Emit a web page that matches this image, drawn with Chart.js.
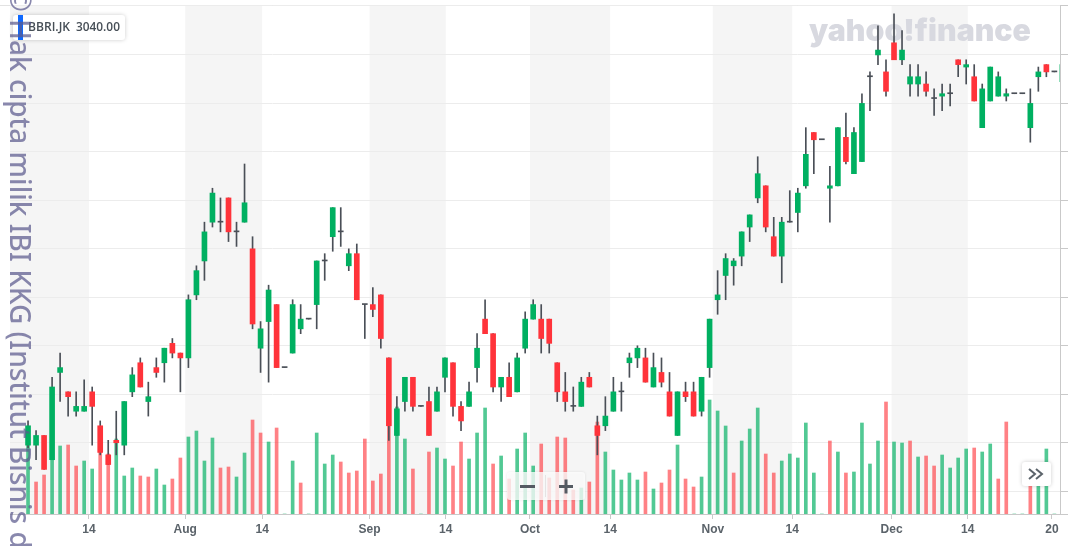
<!DOCTYPE html>
<html>
<head>
<meta charset="utf-8">
<script src="https://cdn.jsdelivr.net/npm/chart.js@4.4.1/dist/chart.umd.min.js"></script>
<style>
  html, body { margin: 0; padding: 0; background: #fff; }
</style>
</head>
<body>
<canvas id="chart" width="1068" height="546"></canvas>
<script>
// daily candles, left to right (one entry per trading day)
const open = [2995, 2995, 3015, 2965, 3145, 3105, 3065, 3065, 3105, 3035, 2975, 3005, 2995, 3105, 3165, 3085, 3155, 3165, 3205, 3185,
  3175, 3305, 3375, 3455, 3455, 3505, 3435, 3455, 3400, 3195, 3250, 3285, 3155, 3185, 3235, 3255, 3285, 3375, 3425, 3435,
  3365, 3390, 3285, 3285, 3305, 3175, 3015, 3085, 3135, 3075, 3085, 3065, 3135, 3165, 3075, 3075, 3155, 3255, 3225, 3115,
  3135, 3105, 3195, 3255, 3255, 3255, 3165, 3105, 3075, 3075, 3135, 3035, 3035, 3065, 3105, 3165, 3175, 3175, 3115, 3145,
  3105, 3015, 3105, 3105, 3065, 3155, 3295, 3345, 3365, 3385, 3445, 3505, 3530, 3425, 3385, 3455, 3475, 3530, 3640, 3625,
  3525, 3530, 3630, 3555, 3580, 3755, 3800, 3765, 3825, 3790, 3740, 3740, 3740, 3710, 3715, 3720, 3790, 3775, 3755, 3650,
  3705, 3715, 3715, 3720, 3720, 3650, 3755, 3780, 3765, 3745];
const high = [3045, 3025, 3015, 3135, 3185, 3105, 3105, 3130, 3115, 3045, 3005, 3065, 3085, 3155, 3175, 3125, 3175, 3195, 3215, 3185,
  3305, 3365, 3455, 3525, 3505, 3505, 3455, 3575, 3425, 3250, 3325, 3285, 3155, 3295, 3285, 3255, 3375, 3390, 3485, 3485,
  3400, 3410, 3285, 3320, 3305, 3175, 3095, 3135, 3135, 3075, 3115, 3115, 3175, 3165, 3085, 3125, 3225, 3295, 3225, 3135,
  3165, 3185, 3270, 3295, 3285, 3255, 3165, 3145, 3115, 3135, 3145, 3055, 3095, 3135, 3125, 3185, 3200, 3195, 3185, 3175,
  3145, 3105, 3125, 3125, 3135, 3255, 3355, 3390, 3380, 3435, 3470, 3590, 3530, 3465, 3465, 3520, 3525, 3650, 3640, 3625,
  3570, 3650, 3680, 3650, 3720, 3765, 3860, 3790, 3885, 3850, 3780, 3780, 3765, 3730, 3740, 3740, 3790, 3790, 3780, 3740,
  3775, 3765, 3730, 3720, 3720, 3730, 3775, 3780, 3765, 3780];
const low = [2990, 2965, 2945, 2965, 3085, 3055, 3055, 3065, 2995, 2975, 2955, 2975, 2975, 3095, 3115, 3055, 3135, 3125, 3175, 3105,
  3155, 3295, 3335, 3445, 3435, 3415, 3405, 3455, 3235, 3145, 3125, 3155, 3155, 3185, 3225, 3255, 3235, 3335, 3395, 3405,
  3355, 3295, 3215, 3260, 3195, 3005, 3015, 3065, 3065, 3075, 3015, 3065, 3105, 3055, 3025, 3075, 3125, 3225, 3105, 3085,
  3095, 3105, 3185, 3255, 3185, 3185, 3085, 3065, 3065, 3075, 3115, 2975, 3025, 3065, 3065, 3135, 3155, 3125, 3115, 3115,
  3055, 3015, 3085, 3055, 3055, 3135, 3265, 3295, 3325, 3365, 3415, 3495, 3435, 3385, 3330, 3455, 3435, 3525, 3555, 3625,
  3455, 3530, 3575, 3555, 3580, 3685, 3780, 3715, 3790, 3780, 3715, 3715, 3715, 3675, 3685, 3695, 3755, 3740, 3705, 3650,
  3705, 3715, 3705, 3720, 3720, 3620, 3725, 3755, 3765, 3745];
const close = [3035, 3015, 2945, 3115, 3155, 3095, 3075, 3075, 3075, 2980, 2955, 3000, 3085, 3140, 3115, 3095, 3145, 3195, 3185, 3175,
  3295, 3355, 3435, 3515, 3455, 3435, 3435, 3495, 3245, 3235, 3315, 3155, 3155, 3285, 3255, 3255, 3375, 3375, 3485, 3435,
  3390, 3295, 3285, 3275, 3215, 3035, 3070, 3135, 3075, 3075, 3015, 3105, 3175, 3075, 3045, 3105, 3195, 3225, 3115, 3135,
  3095, 3175, 3255, 3285, 3215, 3205, 3105, 3085, 3075, 3125, 3115, 3015, 3055, 3105, 3105, 3175, 3195, 3125, 3155, 3125,
  3055, 3105, 3095, 3055, 3135, 3255, 3305, 3380, 3375, 3435, 3470, 3555, 3445, 3385, 3455, 3455, 3515, 3595, 3625, 3625,
  3530, 3650, 3580, 3640, 3700, 3755, 3810, 3725, 3790, 3810, 3755, 3755, 3725, 3710, 3720, 3720, 3780, 3780, 3705, 3730,
  3775, 3755, 3720, 3720, 3720, 3700, 3765, 3765, 3765, 3780];
// volume, millions of shares (0 = no trading)
const volume = [154, 64, 78, 134, 136, 138, 96, 106, 90, 138, 120, 150, 76, 92, 76, 74, 90, 58, 70, 112,
  154, 166, 106, 152, 92, 94, 74, 122, 188, 162, 144, 172, 0, 106, 62, 0, 162, 100, 118, 104,
  82, 86, 150, 66, 80, 190, 214, 150, 90, 0, 124, 132, 110, 96, 144, 110, 162, 212, 100, 116,
  70, 130, 162, 96, 140, 72, 154, 152, 48, 52, 64, 184, 124, 88, 68, 82, 68, 84, 50, 62,
  88, 138, 70, 54, 74, 228, 206, 176, 82, 146, 170, 212, 120, 82, 106, 120, 112, 182, 82, 0,
  146, 124, 82, 84, 182, 100, 146, 224, 144, 142, 146, 114, 116, 96, 118, 92, 112, 130, 132, 124,
  140, 70, 184, 0, 0, 88, 78, 130, 0, 60];

// date axis: label positions measured in candle index units
const tickPos = [7.6, 19.6, 29.2, 42.6, 52.1, 62.6, 72.6, 85.4, 95.3, 107.7, 117.2, 127.7];
const tickLabels = ["14", "Aug", "14", "Sep", "14", "Oct", "14", "Nov", "14", "Dec", "14", "20"];

const UP = "#00b061", DOWN = "#ff333a", FLAT = "#4a4f57";
const idx = close.map((_, i) => i);
const bodyColors = idx.map(i => close[i] > open[i] ? UP : close[i] < open[i] ? DOWN : FLAT);
const volColors = idx.map(i => (i === 0 || close[i] >= close[i - 1]) ? "rgba(0,176,97,0.68)" : "rgba(255,51,58,0.62)");

// pick a font size so that text fills a given width
function fitFont(ctx, text, weight, family, width) {
  ctx.font = `${weight} 20px ${family}`;
  const size = 20 * width / ctx.measureText(text).width;
  ctx.font = `${weight} ${size}px ${family}`;
}

const backdrop = {
  id: "backdrop",
  beforeDraw(chart) {
    const { ctx, chartArea: a, scales: { x } } = chart;
    ctx.save();
    // first half of every month is shaded
    ctx.fillStyle = "#f5f5f5";
    tickLabels.forEach((lab, i) => {
      if (lab !== "14") return;
      const start = i > 0 ? tickPos[i - 1] : x.min;
      const l = Math.max(a.left, x.getPixelForValue(start));
      const r = x.getPixelForValue(tickPos[i]);
      ctx.fillRect(l, a.top, r - l, a.bottom - a.top);
    });
    ctx.strokeStyle = "#e2e2e2";
    ctx.lineWidth = 1;
    ctx.beginPath();
    ctx.moveTo(0, a.top + 0.5);
    ctx.lineTo(a.right, a.top + 0.5);
    ctx.stroke();
    ctx.restore();
  },
  beforeDatasetsDraw(chart) {
    const { ctx } = chart;
    ctx.save();
    ctx.fillStyle = "#d8d9e0";
    fitFont(ctx, "yahoo!finance", 900, '"Inter", "DejaVu Sans"', 222);
    ctx.textBaseline = "alphabetic";
    ctx.fillText("yahoo!finance", 809, 41);
    ctx.restore();
  }
};

const overlay = {
  id: "overlay",
  afterDraw(chart) {
    const { ctx } = chart;
    ctx.save();
    // symbol box
    ctx.shadowColor = "rgba(0,0,0,0.2)";
    ctx.shadowBlur = 4;
    ctx.fillStyle = "#fff";
    ctx.beginPath();
    ctx.roundRect(13, 15, 112, 25, 3);
    ctx.fill();
    ctx.shadowBlur = 0;
    ctx.fillStyle = "#0f69ff";
    ctx.fillRect(18, 15, 5, 25);
    ctx.fillStyle = "#464e56";
    ctx.textBaseline = "middle";
    fitFont(ctx, "BBRI.JK", 600, '"Open Sans"', 42);
    ctx.fillText("BBRI.JK", 28, 28);
    fitFont(ctx, "3040.00", 600, '"Open Sans"', 44);
    ctx.fillText("3040.00", 76, 28);

    // zoom buttons
    ctx.fillStyle = "rgba(255,255,255,0.78)";
    ctx.shadowColor = "rgba(0,0,0,0.12)";
    ctx.shadowBlur = 3;
    ctx.beginPath();
    ctx.roundRect(507, 472, 78, 28, 3);
    ctx.fill();
    ctx.shadowBlur = 0;
    ctx.strokeStyle = "#e4e4e4";
    ctx.beginPath(); ctx.moveTo(545.5, 475); ctx.lineTo(545.5, 497); ctx.stroke();
    ctx.strokeStyle = "#555b63";
    ctx.lineWidth = 3;
    ctx.beginPath();
    ctx.moveTo(520, 486.5); ctx.lineTo(535, 486.5);
    ctx.moveTo(559, 486.5); ctx.lineTo(573, 486.5);
    ctx.moveTo(566, 479.5); ctx.lineTo(566, 493.5);
    ctx.stroke();

    // scroll-right button
    ctx.fillStyle = "#fff";
    ctx.shadowColor = "rgba(0,0,0,0.2)";
    ctx.shadowBlur = 4;
    ctx.beginPath();
    ctx.roundRect(1022, 462, 29, 24, 3);
    ctx.fill();
    ctx.shadowBlur = 0;
    ctx.strokeStyle = "#5b636a";
    ctx.lineWidth = 2;
    ctx.beginPath();
    ctx.moveTo(1029, 469); ctx.lineTo(1035, 474); ctx.lineTo(1029, 479);
    ctx.moveTo(1036, 469); ctx.lineTo(1042, 474); ctx.lineTo(1036, 479);
    ctx.stroke();

    // copyright watermark, written top to bottom
    ctx.font = '500 28px "Noto Sans"';
    ctx.fillStyle = "rgba(92,90,142,0.72)";
    ctx.translate(10, 0);
    ctx.rotate(Math.PI / 2);
    const lead = ctx.measureText("\u00a9 ").width;
    ctx.textBaseline = "alphabetic";
    ctx.fillText("\u00a9 Hak cipta milik IBI KKG (Institut Bisnis dan Informatika Kwik Kian Gie)", 19 - lead, 0);
    ctx.restore();
  }
};

new Chart(document.getElementById("chart").getContext("2d"), {
  type: "bar",
  data: {
    datasets: [
      {
        label: "Body",
        data: idx.map(i => ({ x: i, y: [open[i], close[i]] })),
        backgroundColor: bodyColors,
        barThickness: 5,
        minBarLength: 1,
        grouped: false,
        order: 1,
        yAxisID: "y"
      },
      {
        label: "Wick",
        data: idx.map(i => ({ x: i, y: [low[i], high[i]] })),
        backgroundColor: FLAT,
        barThickness: 1,
        grouped: false,
        order: 2,
        yAxisID: "y"
      },
      {
        label: "Volume",
        data: idx.map(i => ({ x: i, y: volume[i] })),
        backgroundColor: volColors,
        barThickness: 3,
        grouped: false,
        order: 3,
        yAxisID: "yVol"
      }
    ]
  },
  options: {
    responsive: false,
    animation: false,
    events: [],
    layout: { padding: { left: 10, top: 5, right: 0, bottom: 0 } },
    plugins: { legend: { display: false }, tooltip: { enabled: false } },
    scales: {
      x: {
        type: "linear",
        min: -2.25,
        max: 128.7,
        offset: false,
        afterBuildTicks: s => { s.ticks = tickPos.map(v => ({ value: v })); },
        afterFit: s => { s.height = 32; },
        ticks: {
          autoSkip: false,
          maxRotation: 0,
          padding: 3,
          color: "#5b636a",
          font: { family: "Liberation Sans", size: 12, weight: "bold" },
          callback: (v, i) => tickLabels[i]
        },
        grid: { drawOnChartArea: false, offset: false, tickLength: 5, color: "#c9c9c9" },
        border: { color: "#c9c9c9" }
      },
      y: {
        position: "right",
        min: 2853,
        max: 3903,
        ticks: { display: false, stepSize: 100 },
        grid: { color: "#ececec", tickLength: 8, tickColor: "#c9c9c9" },
        border: { color: "#c9c9c9" },
        afterFit: s => { s.width = 8; }
      },
      yVol: { display: false, min: 0, max: 1018 }
    }
  },
  plugins: [backdrop, overlay]
});
</script>
</body>
</html>
